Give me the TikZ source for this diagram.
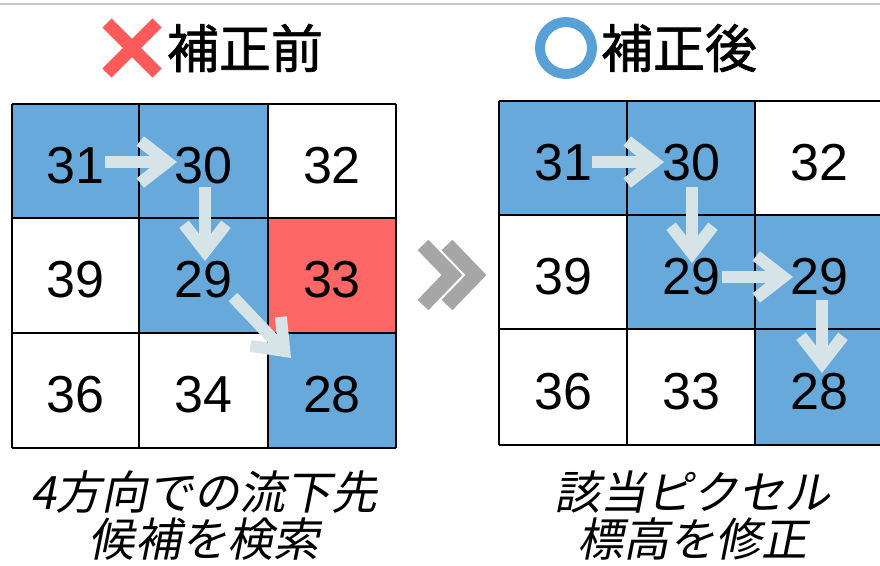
\documentclass[tikz,border=0pt]{standalone}
\usepackage{fontspec}
\setmainfont{Liberation Sans}
\newfontfamily\jptitle[FakeBold=1.3]{Noto Sans CJK JP}
\newfontfamily\jpslant[FakeSlant=0.2]{Noto Sans CJK JP}
\usetikzlibrary{arrows.meta}
\definecolor{cellblue}{RGB}{103,169,218}
\definecolor{cellred}{RGB}{255,102,102}
\definecolor{arrowc}{RGB}{214,228,232}
\definecolor{chev}{RGB}{166,166,166}
\definecolor{markred}{RGB}{255,90,90}
\definecolor{ringblue}{RGB}{88,160,214}
\definecolor{topline}{RGB}{200,200,200}
\begin{document}
\begin{tikzpicture}[x=1pt,y=-1pt,
  gridline/.style={line width=2pt,black},
  num/.style={font=\fontsize{52}{52}\selectfont, inner sep=0pt},
  title/.style={font=\jptitle\fontsize{52}{52}\selectfont, inner sep=0pt},
  caption/.style={font=\jpslant\fontsize{46}{47}\selectfont, align=center, inner sep=0pt},
  flow/.style={draw=arrowc, line width=12pt, -{Straight Barb[length=27pt,width=42pt]}},
  chevron/.style={draw=chev, line width=15pt, line join=miter, line cap=butt},
  ]
\useasboundingbox (0,0) rectangle (880,565);
\clip (0,0) rectangle (880,565);

% top rule
\draw[topline, line width=1.5pt] (0,4) -- (880,4);

% titles
\draw[markred, line width=13pt] (107,23) -- (157,73);
\draw[markred, line width=13pt] (157,23) -- (107,73);
\node[title] (t1) at (245,48) {補正前};
\draw[ringblue, line width=10pt] (566,48) circle (26);
\node[title] (t2) at (679,48) {補正後};

% left grid cells
\fill[cellblue] (12,104) rectangle (268,218);
\fill[cellblue] (139,218) rectangle (268,333);
\fill[cellred] (268,218) rectangle (396,333);
\fill[cellblue] (268,333) rectangle (396,448);
\foreach \x in {12,139,268,396} \draw[gridline] (\x,104) -- (\x,448);
\foreach \y in {104,218,333,448} \draw[gridline] (12,\y) -- (396,\y);

% right grid cells
\fill[cellblue] (499,101) rectangle (755,215);
\fill[cellblue] (627,215) rectangle (883,329);
\fill[cellblue] (755,329) rectangle (883,445);
\foreach \x in {499,627,755,883} \draw[gridline] (\x,101) -- (\x,445);
\foreach \y in {101,215,329,445} \draw[gridline] (499,\y) -- (883,\y);

% arrow coordinates
\coordinate (a1s) at (105,162); \coordinate (a1e) at (177,162);
\coordinate (a2s) at (205,187); \coordinate (a2e) at (205,261);
\coordinate (a3s) at (233,297); \coordinate (a3e) at (291,358);
\coordinate (b1s) at (592,162); \coordinate (b1e) at (664,162);
\coordinate (b2s) at (692,187); \coordinate (b2e) at (692,263);
\coordinate (b3s) at (722,277); \coordinate (b3e) at (793,277);
\coordinate (b4s) at (822,300); \coordinate (b4e) at (822,373);
\draw[flow] (a1s) -- (a1e);
\draw[flow] (a2s) -- (a2e);
\draw[flow] (a3s) -- (a3e);
\draw[flow] (b1s) -- (b1e);
\draw[flow] (b2s) -- (b2e);
\draw[flow] (b3s) -- (b3e);
\draw[flow] (b4s) -- (b4e);

% numbers left
\node[num] (L11) at (75.5,165.5) {31};
\node[num] (L12) at (203.5,165.5) {30};
\node[num] (L13) at (332,165.5) {32};
\node[num] (L21) at (75.5,280) {39};
\node[num] (L22) at (203.5,280) {29};
\node[num] (L23) at (332,280) {33};
\node[num] (L31) at (75.5,395) {36};
\node[num] (L32) at (203.5,395) {34};
\node[num] (L33) at (332,395) {28};
% numbers right
\node[num] (R11) at (563,162.5) {31};
\node[num] (R12) at (691,162.5) {30};
\node[num] (R13) at (819,162.5) {32};
\node[num] (R21) at (563,276.5) {39};
\node[num] (R22) at (691,276.5) {29};
\node[num] (R23) at (819,276.5) {29};
\node[num] (R31) at (563,391.5) {36};
\node[num] (R32) at (691,391.5) {33};
\node[num] (R33) at (819,391.5) {28};

% double chevron
\draw[chevron] (423,245) -- (452,275) -- (423,305);
\draw[chevron] (447,245) -- (476,275) -- (447,305);

% captions
\node[caption] (c1) at (204,516) {4方向での流下先\\候補を検索};
\node[caption] (c2) at (692,516) {該当ピクセル\\標高を修正};
\end{tikzpicture}
\end{document}
